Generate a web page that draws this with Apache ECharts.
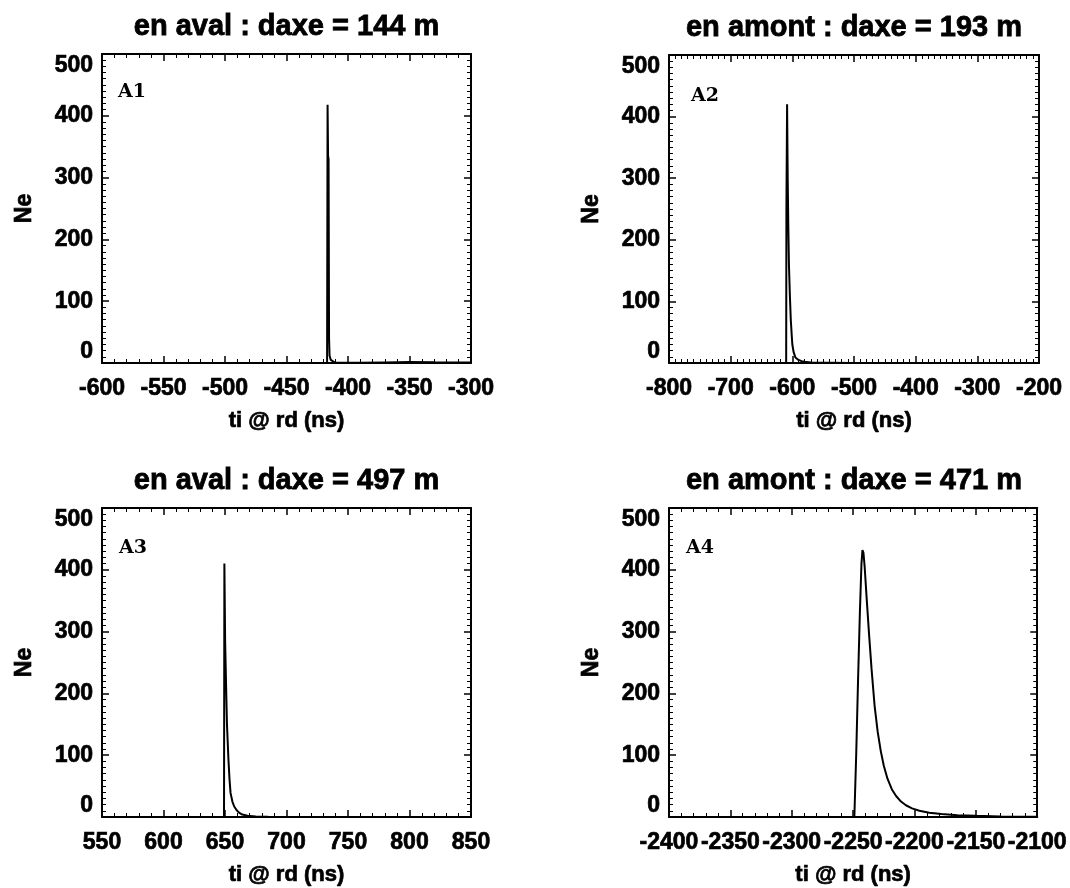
<!DOCTYPE html>
<html>
<head>
<meta charset="utf-8">
<script src="https://cdn.jsdelivr.net/npm/echarts@6/dist/echarts.min.js"></script>
<style>
html,body{margin:0;padding:0;background:#fff;}
#c{width:1070px;height:888px;}
</style>
</head>
<body>
<div id="c"></div>
<script>
// ---- data ----
const titles = ['en aval : daxe = 144 m', 'en amont : daxe = 193 m', 'en aval : daxe = 497 m', 'en amont : daxe = 471 m'];
const panelLabels = ['A1', 'A2', 'A3', 'A4'];
const xName = 'ti @ rd (ns)';
const yName = 'Ne';

const xRanges = [[-600, -300, 50], [-800, -200, 100], [550, 850, 50], [-2400, -2100, 50]];
const yRange = [0, 500, 100];

const x1 = [-600, -417, -416.6, -416.2, -415.8, -415.4, -415, -414, -413, -411, -405, -390, -370, -350, -330, -300];
const y1 = [0, 0, 418, 335, 330, 40, 12, 5, 2, 1, 0.5, 0.3, 1, 1.5, 1.2, 1];

const x2 = [-800, -610, -609.6, -608.5, -607.5, -606.5, -605.5, -604, -602.5, -601, -600, -598, -595, -590, -585, -580, -570, -560, -540, -500, -200];
const y2 = [0, 0, 250, 420, 300, 220, 160, 110, 70, 45, 30, 18, 9, 5, 3, 2, 1, 0.5, 0.3, 0, 0];

const x3 = [550, 649.2, 649.5, 650.1, 650.8, 651.6, 652.8, 653.7, 654.5, 656, 657.5, 659.5, 661.4, 664, 668.4, 675, 685, 700, 850];
const y3 = [0, 0, 410, 285, 220, 150, 93, 60, 39, 25, 17, 11, 7, 4, 2, 1, 0.3, 0, 0];

const x4 = [-2400, -2249, -2247.5, -2246, -2244.5, -2243.2, -2242.4, -2241.6, -2240.6, -2239, -2237, -2235, -2232.5, -2230, -2227.5, -2225, -2222, -2218.5, -2215, -2211, -2207, -2202, -2196, -2188, -2178, -2165, -2150, -2130, -2100];
const y4 = [0, 0, 100, 220, 330, 410, 432, 428, 405, 355, 295, 240, 180, 138, 107, 83, 62, 45, 34, 25, 19, 14, 10, 7, 5, 3, 2, 1, 0.5];

const xs = [x1, x2, x3, x4];
const ys = [y1, y2, y3, y4];

// ---- layout ----
const grids = [
  {left: 102, top: 54, width: 369, height: 309},
  {left: 669, top: 55, width: 370, height: 308},
  {left: 102, top: 508, width: 369, height: 309},
  {left: 669, top: 508, width: 370, height: 309}
];
const labelOffsets = [[16, 38], [22, 41], [17, 40], [17, 40]];

const FONT = '"Liberation Sans", Arial, Helvetica, sans-serif';
const heavy = {textBorderColor: '#000', textBorderWidth: 0.7};

function axisBase(min, max, interval, minorSplit) {
  return {
    type: 'value', min: min, max: max, interval: interval,
    axisLine: {show: true, onZero: false, lineStyle: {color: '#000', width: 2}},
    axisTick: {show: true, inside: true, length: 7, lineStyle: {color: '#000', width: 1.5}},
    minorTick: {show: true, splitNumber: minorSplit, length: 4, lineStyle: {color: '#000', width: 1}},
    splitLine: {show: false},
    minorSplitLine: {show: false}
  };
}

const xAxes = [], yAxes = [], series = [], graphics = [];
grids.forEach((g, i) => {
  const [xmin, xmax, xint] = xRanges[i];
  const xMinor = xint === 100 ? 10 : 5;
  const bx = axisBase(xmin, xmax, xint, xMinor);
  bx.gridIndex = i; bx.position = 'bottom';
  bx.axisLabel = Object.assign({color: '#000', fontFamily: FONT, fontWeight: 'bold', fontSize: 23, margin: 14,
    showMinLabel: true, showMaxLabel: true, hideOverlap: false,
    formatter: v => String(v)}, heavy);
  bx.name = xName; bx.nameLocation = 'middle'; bx.nameGap = 47;
  bx.nameTextStyle = Object.assign({color: '#000', fontFamily: FONT, fontWeight: 'bold', fontSize: 22}, heavy);
  xAxes.push(bx);
  const tx = axisBase(xmin, xmax, xint, xMinor);
  tx.gridIndex = i; tx.position = 'top'; tx.axisLabel = {show: false};
  xAxes.push(tx);

  const ly = axisBase(yRange[0], yRange[1], yRange[2], 10);
  ly.gridIndex = i; ly.position = 'left';
  ly.axisLabel = Object.assign({color: '#000', fontFamily: FONT, fontWeight: 'bold', fontSize: 23, margin: 9,
    formatter: v => String(v),
    verticalAlignMinLabel: 'bottom', verticalAlignMaxLabel: 'top'}, heavy);
  ly.name = yName; ly.nameLocation = 'middle'; ly.nameGap = 66;
  ly.nameTextStyle = Object.assign({color: '#000', fontFamily: FONT, fontWeight: 'bold', fontSize: 23}, heavy);
  yAxes.push(ly);
  const ry = axisBase(yRange[0], yRange[1], yRange[2], 10);
  ry.gridIndex = i; ry.position = 'right'; ry.axisLabel = {show: false};
  yAxes.push(ry);

  series.push({
    type: 'line', xAxisIndex: 2 * i, yAxisIndex: 2 * i,
    data: xs[i].map((v, k) => [v, ys[i][k]]),
    showSymbol: false, symbol: 'none', silent: true,
    lineStyle: {color: '#000', width: 2},
    clip: true, animation: false
  });

  graphics.push({
    type: 'text', x: g.left + g.width / 2, y: g.top - 27,
    style: {text: titles[i], font: 'bold 29px ' + FONT, fill: '#000', stroke: '#000', lineWidth: 0.8,
      textAlign: 'center', textVerticalAlign: 'middle'}
  });
  graphics.push({
    type: 'text', x: g.left + labelOffsets[i][0], y: g.top + labelOffsets[i][1],
    style: {text: panelLabels[i], font: 'bold 19px "DejaVu Serif", "Liberation Serif", serif', fill: '#000',
      textAlign: 'left', textVerticalAlign: 'middle'}
  });
});

const chart = echarts.init(document.getElementById('c'), null, {renderer: 'canvas'});
chart.setOption({
  backgroundColor: '#fff',
  animation: false,
  grid: grids.map(g => Object.assign({containLabel: false}, g)),
  xAxis: xAxes,
  yAxis: yAxes,
  series: series,
  graphic: graphics
});
</script>
</body>
</html>
